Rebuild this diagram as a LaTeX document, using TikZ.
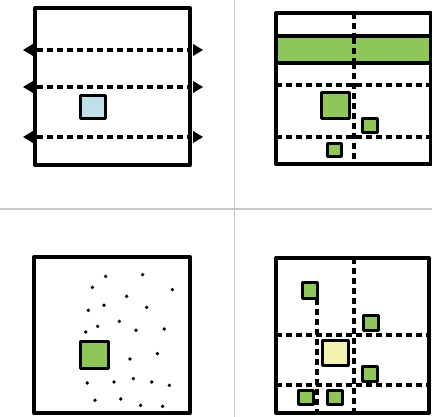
\documentclass[tikz,border=0pt]{standalone}
\begin{document}
\begin{tikzpicture}[x=1pt,y=-1pt,
  frame/.style={draw=black,line width=4pt,line join=round,line cap=round},
  dashln/.style={draw=black,line width=3.2pt,dash pattern=on 6pt off 4pt},
  sq/.style={draw=black,line width=3pt,line join=round},
  sep/.style={draw=black!22,line width=1.4pt},
  tri/.style={fill=black},
  dotm/.style={fill=black}]
\definecolor{sqblue}{HTML}{BFE0E8}
\definecolor{sqgreen}{HTML}{8FC65A}
\definecolor{sqyellow}{HTML}{F4F1B2}
\useasboundingbox (0,0) rectangle (432,417);
% separators
\draw[sep] (234.5,0) -- (234.5,417);
\draw[sep] (0,209) -- (432,209);

% ---------- panel 1 ----------
\foreach \yy in {50,87,137}{
  \draw[dashln] (37,\yy) -- (190,\yy);
  \fill[tri] (23,\yy) -- (33,\yy-6) -- (33,\yy+6) -- cycle;
  \fill[tri] (203,\yy) -- (193,\yy-6) -- (193,\yy+6) -- cycle;
}
\draw[frame] (35,8) -- (190,8) -- (190,165) -- (35,165) -- cycle;
\draw[sq,fill=sqblue] (80,96) rectangle (105,119);

% ---------- panel 2 ----------
\draw[dashln] (354,13) -- (354,164);
\draw[dashln] (276,85) -- (431,85);
\draw[dashln] (276,137) -- (431,137);
\draw[frame,fill=sqgreen] (276,36) rectangle (431,63);
\draw[dashln] (354,38) -- (354,61);
\draw[frame] (276,13) -- (431,13) -- (431,164) -- (276,164) -- cycle;
\draw[sq,fill=sqgreen] (321,93) rectangle (349,119);
\draw[sq,fill=sqgreen] (362,119) rectangle (377,133);
\draw[sq,fill=sqgreen] (327,144) rectangle (341,157);

% ---------- panel 3 ----------
\draw[frame] (34,257) -- (190,257) -- (190,413) -- (34,413) -- cycle;
\draw[sq,fill=sqgreen] (80,342) rectangle (108,369);
\foreach \px/\py in {317/205,428/200,277/238,517/245,380/265,312/292,440/298,265/307,358/340,293/355,257/372,408/367,493/363,472/437,390/453,262/525,342/522,400/512,455/522,508/532,285/577,362/573,422/592,488/595}{
  \fill[dotm] (\px/3,208+\py/3) circle (1.9);
}

% ---------- panel 4 ----------
\draw[dashln] (354,258) -- (354,413);
\draw[dashln] (276,335) -- (429,335);
\draw[dashln] (276,385) -- (429,385);
\draw[dashln] (317,299) -- (317,413);
\draw[frame] (276,258) -- (429,258) -- (429,413) -- (276,413) -- cycle;
\draw[sq,fill=sqyellow] (322,341) rectangle (348,366);
\draw[sq,fill=sqgreen] (302,283) rectangle (317,299);
\draw[sq,fill=sqgreen] (363,316) rectangle (378,331);
\draw[sq,fill=sqgreen] (362,367) rectangle (377,382);
\draw[sq,fill=sqgreen] (298,391) rectangle (313,405);
\draw[sq,fill=sqgreen] (327,391) rectangle (342,405);
\end{tikzpicture}
\end{document}
